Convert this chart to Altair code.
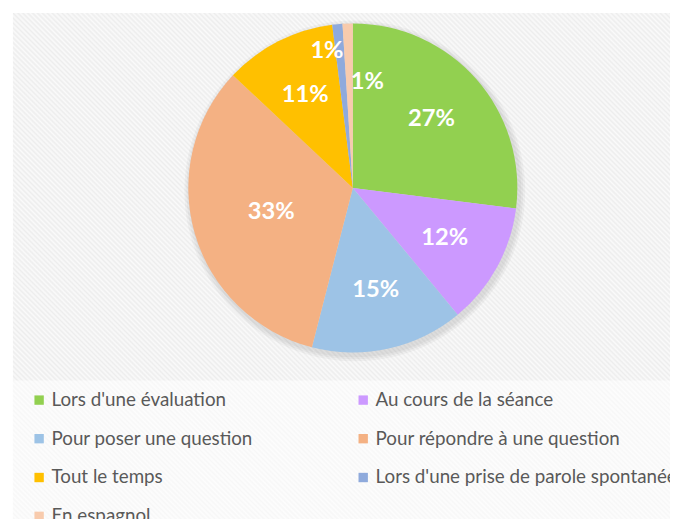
import math
import altair as alt
import pandas as pd

# ---- data ----
categories = [
    "Lors d'une évaluation",
    "Au cours de la séance",
    "Pour poser une question",
    "Pour répondre à une question",
    "Tout le temps",
    "Lors d'une prise de parole spontanée",
    "En espagnol",
]
values = [27, 12, 15, 33, 11, 1, 1]
labels = ["27%", "12%", "15%", "33%", "11%", "1%", "1%"]
colors = ["#92D050", "#CC99FF", "#9DC3E6", "#F4B183", "#FFC000", "#8FAADC", "#F8CBAD"]

df = pd.DataFrame({
    "cat": categories,
    "value": values,
    "label": labels,
    "idx": list(range(len(categories))),
})
total = sum(values)

# ---- layout / style ----
CX, CY, R = 349, 179, 166.5
theta_scale = alt.Scale(domain=[0, total], range=[0, 2 * math.pi])


def stripes(c1, c2, n):
    stops = []
    for k in range(n):
        stops.append({"offset": round(k / n, 6), "color": c1})
        stops.append({"offset": round((k + 0.5) / n, 6), "color": c2})
    stops.append({"offset": 1, "color": c1})
    return {"gradient": "linear", "x1": 0, "y1": 1, "x2": 1, "y2": 0, "stops": stops}


one = pd.DataFrame({"a": [0]})
bg_plot = alt.Chart(one).mark_rect(color=stripes("#ededed", "#fafafa", 268)).encode(
    x=alt.value(5), x2=alt.value(670), y=alt.value(2), y2=alt.value(667)
)
bg_leg = alt.Chart(one).mark_rect(color=stripes("#f7f7f7", "#fdfdfd", 268)).encode(
    x=alt.value(5), x2=alt.value(670), y=alt.value(374), y2=alt.value(1039)
)

base = alt.Chart(df)

shadows = [
    base.mark_arc(outerRadius=R + d, color="#000000", opacity=0.035).encode(
        theta=alt.Theta("value:Q", stack=True, scale=theta_scale),
        order=alt.Order("idx:Q"),
        x=alt.value(CX + 2), y=alt.value(CY + 3),
    )
    for d in (2, 4, 6)
]

legend = alt.Legend(
    orient="none", legendX=22, legendY=384, columns=2, columnPadding=101,
    direction="horizontal",
    rowPadding=19.3, padding=0, title=None, symbolType="square", symbolSize=90,
    symbolStrokeWidth=0, symbolOpacity=1, labelFont="Lato", labelFontSize=19,
    labelColor="#595959", labelOffset=3, labelLimit=500,
)

pie = base.mark_arc(outerRadius=R).encode(
    theta=alt.Theta("value:Q", stack=True, scale=theta_scale),
    color=alt.Color("cat:N", scale=alt.Scale(domain=categories, range=colors), legend=legend),
    order=alt.Order("idx:Q"),
    x=alt.value(CX), y=alt.value(CY),
)

lab_base = base.transform_window(
    cum="sum(value)", sort=[alt.SortField("idx")]
).transform_calculate(mid="datum.cum - datum.value / 2")


def text_layer(filter_expr, radius, dx=0, dy=0):
    return lab_base.transform_filter(filter_expr).mark_text(
        font="Lato", fontWeight="bold", fontSize=24, color="white",
        radius=radius, dx=dx, dy=dy, align="center", baseline="middle",
    ).encode(
        theta=alt.Theta("mid:Q", stack=None, scale=theta_scale),
        text="label:N",
        x=alt.value(CX), y=alt.value(CY),
    )


t_main = text_layer("datum.idx <= 4 && datum.idx != 3", 106)
t_big = text_layer("datum.idx == 3", 86)
t_blue = text_layer("datum.idx == 5", 140, dx=-13, dy=1)
t_pink = text_layer("datum.idx == 6", 108, dx=18, dy=1)

chart = alt.layer(
    bg_plot, bg_leg, *shadows, pie, t_main, t_big, t_blue, t_pink
).properties(
    width=670, height=511, autosize="none", padding=0, background="white"
).configure_view(stroke=None)

chart.save("out.html", embed_options={"renderer": "svg", "actions": False})
